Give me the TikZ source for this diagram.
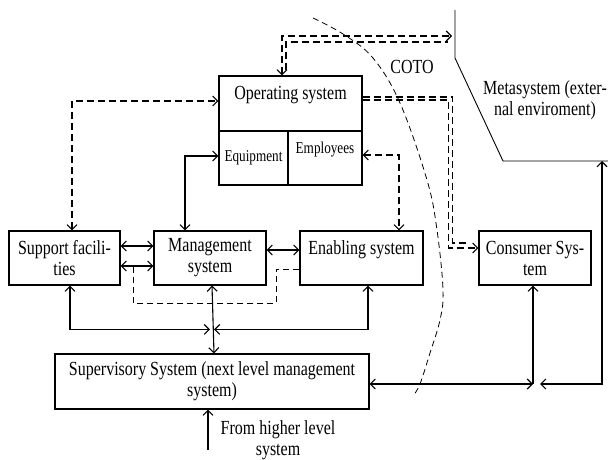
\documentclass[tikz,border=0pt]{standalone}
\usepackage{fontspec}
\setmainfont{Liberation Serif}[FakeStretch=0.8]
\usetikzlibrary{arrows.meta,calc}
\begin{document}
\begin{tikzpicture}[x=1pt,y=-1pt,
  box/.style={draw,line width=1.1pt,inner sep=0pt,align=center,font=\fontsize{20}{21}\selectfont},
  smallbox/.style={draw,line width=1.1pt,inner sep=0pt,align=center,font=\fontsize{16.5}{17}\selectfont},
  lbl/.style={inner sep=0pt,align=center,font=\fontsize{20}{21}\selectfont},
  conn/.style={line width=1.1pt},
  dsh/.style={line width=1.1pt,dash pattern=on 7pt off 4pt},
  thindsh/.style={line width=0.9pt,dash pattern=on 6pt off 4pt},
  bnd/.style={line width=0.8pt,dash pattern=on 6pt off 4pt},
  >={Straight Barb[length=5pt,width=10pt]}]
\useasboundingbox (0,0) rectangle (608,460);

% boxes
\node[box,minimum width=143pt,minimum height=55pt] (os) at (290.5,103.5) {Operating system\\\mbox{}};
\node[smallbox,minimum width=69pt,minimum height=54pt] (equip) at (253.5,158) {Equipment};
\node[smallbox,minimum width=74pt,minimum height=54pt] (emp) at (325,158) {Employees\\[3pt]\mbox{}};
\node[box,minimum width=111pt,minimum height=54pt] (sup) at (64.5,258) {Support facili-\\ties};
\node[box,minimum width=112pt,minimum height=54pt] (mgmt) at (210,258) {Management\\system};
\node[box,minimum width=123pt,minimum height=54pt] (enab) at (361.5,258) {Enabling system\\\mbox{}};
\node[box,minimum width=112pt,minimum height=54pt] (cons) at (535,258) {Consumer Sys-\\tem};
\node[box,minimum width=314pt,minimum height=55pt] (super) at (212,381.5) {Supervisory System (next level management\\system)};

% labels
\node[lbl] (coto) at (412,67) {COTO};
\node[lbl] (meta) at (545,100) {Metasystem (exter-\\nal enviroment)};
\node[lbl] (fromtxt) at (278,440) {From higher level\\system};

% metasystem boundary
\coordinate (mtop) at (455,10);
\coordinate (mbend) at (455,58);
\coordinate (mcorner) at (503,161);
\coordinate (mend) at (608,161);
\draw[line width=0.9pt] (mtop) -- (mbend) -- (mcorner) -- (mend);

% COTO boundary
\draw[bnd] plot[smooth,tension=0.6] coordinates {(313,18) (343,34) (373,58) (400,103) (427,180) (437,230) (443,290) (440,320) (430,353) (420,384) (413,396)};

% dashed connectors
\draw[dsh,<->] ([xshift=7.5pt]sup.north) |- ([yshift=2.5pt]os.west);
\draw[dsh,<->] ([yshift=3pt]emp.east) -| ([xshift=37.5pt]enab.north);
\coordinate (mtip) at (452,36);
\coordinate (mtip2) at (448,42);
\draw[dsh,<->] ([xshift=-8.5pt]os.north) |- (mtip);
\draw[dsh] ([xshift=-4.5pt,yshift=5pt]os.north) |- (mtip2);
\draw[dsh] ([yshift=6.5pt]os.east) -- ++(90,0) -- ++(0,146) -- ++(13,0);
\draw[dsh,->] ([yshift=3.5pt]os.east) -- ++(86,0) |- ([yshift=10pt]cons.west);
\draw[thindsh] ([yshift=-11pt]enab.west) -- ++(-23,0) -- ++(0,34) -| ($([yshift=-8pt]sup.east)+(13,0)$);

% solid connectors
\draw[conn,<->] ([xshift=-25pt]mgmt.north) |- ([yshift=2pt]equip.west);
\draw[conn,<->] ([yshift=12pt]sup.east) -- ([yshift=12pt]mgmt.west);
\draw[conn,<->] ([yshift=-8pt]sup.east) -- ([yshift=-8pt]mgmt.west);
\draw[conn,<->] ([yshift=8pt]mgmt.east) -- ([yshift=8pt]enab.west);
\draw[conn,<->] ([xshift=2pt]mgmt.south) -- ([xshift=2pt]super.north);
\draw[conn,<->] ([xshift=5.5pt]sup.south) |- ($(super.north)+(-2,-24)$);
\draw[conn,<->] ([xshift=6.5pt]enab.south) |- ($(super.north)+(2,-24)$);
\coordinate (cj) at (533,384);
\draw[conn,<->] ([yshift=-2.5pt]super.east) -- (cj);
\draw[conn,->] (cj) -- (cj |- cons.south);
\coordinate (mup) at (602,161);
\draw[conn,<->] (mup) |- ($(cj)+(7,0)$);
\coordinate (fh) at (208,450);
\draw[conn,->] (fh) -- ([xshift=-4pt]super.south);
\end{tikzpicture}
\end{document}
